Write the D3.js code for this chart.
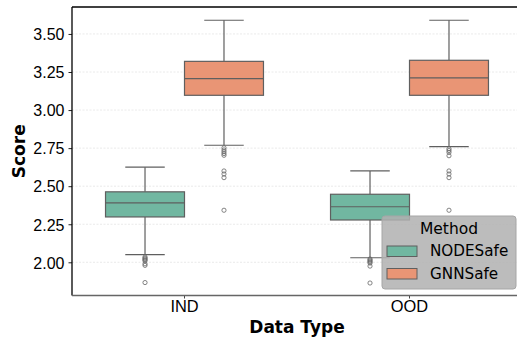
<!DOCTYPE html>
<html>
<head>
<meta charset="utf-8">
<script src="https://cdn.jsdelivr.net/npm/d3@7"></script>
<style>
  body { margin: 0; background: #fff; }
  svg { display: block; font-family: "DejaVu Sans", sans-serif; }
</style>
</head>
<body>
<div id="chart"></div>
<script>
// categories and hue groups
var categories = ["IND", "OOD"];
var methods = ["NODESafe", "GNNSafe"];
var colors = { NODESafe: "#71b7a1", GNNSafe: "#e99575" };

// box stats, [IND, OOD]
var whiskerLow = { NODESafe: [2.051, 2.030], GNNSafe: [2.769, 2.760] };
var q1 = { NODESafe: [2.298, 2.278], GNNSafe: [3.097, 3.097] };
var median = { NODESafe: [2.390, 2.365], GNNSafe: [3.206, 3.211] };
var q3 = { NODESafe: [2.463, 2.447], GNNSafe: [3.320, 3.327] };
var whiskerHigh = { NODESafe: [2.625, 2.600], GNNSafe: [3.590, 3.590] };
var outliers = {
  NODESafe: [
    [2.035, 2.028, 2.022, 2.016, 2.010, 1.990, 1.980, 1.867],
    [2.022, 2.015, 2.008, 2.002, 1.995, 1.975, 1.864]
  ],
  GNNSafe: [
    [2.752, 2.738, 2.726, 2.714, 2.703, 2.600, 2.580, 2.556, 2.342],
    [2.745, 2.734, 2.722, 2.700, 2.600, 2.580, 2.556, 2.342]
  ]
};
var yTicks = [2.00, 2.25, 2.50, 2.75, 3.00, 3.25, 3.50];

var width = 517, height = 341;
var dim = { left: 72, top: 7, right: 522, bottom: 295.5 };
var lineColor = "#5f5f5f";

var svg = d3.select("#chart").append("svg")
  .attr("width", width)
  .attr("height", height);

var y = d3.scaleLinear().domain([1.782, 3.677]).range([dim.bottom, dim.top]);
var x = d3.scaleBand().domain(categories).range([dim.left, dim.right]).padding(0);
var inner = d3.scaleBand().domain(methods)
  .range([x.bandwidth() * 0.149, x.bandwidth() * 0.851]).padding(0);

// grid
svg.append("g").selectAll("line")
  .data(yTicks)
  .enter().append("line")
  .attr("x1", dim.left)
  .attr("x2", dim.right)
  .attr("y1", function(d) { return y(d); })
  .attr("y2", function(d) { return y(d); })
  .attr("stroke", "#e4e4e4")
  .attr("stroke-width", 0.8)
  .attr("stroke-dasharray", "2,1.5");

// boxes
var rows = [];
categories.forEach(function(c, ci) {
  methods.forEach(function(m) {
    rows.push({
      cat: c, method: m,
      lo: whiskerLow[m][ci], q1: q1[m][ci], med: median[m][ci],
      q3: q3[m][ci], hi: whiskerHigh[m][ci], out: outliers[m][ci]
    });
  });
});

var groups = svg.append("g").selectAll("g")
  .data(rows)
  .enter().append("g")
  .attr("transform", function(d) { return "translate(" + (x(d.cat) + inner(d.method)) + ",0)"; });

var bw = inner.bandwidth();

groups.append("line")
  .attr("x1", bw / 2).attr("x2", bw / 2)
  .attr("y1", function(d) { return y(d.hi); })
  .attr("y2", function(d) { return y(d.q3); })
  .attr("stroke", lineColor).attr("stroke-width", 1.2);
groups.append("line")
  .attr("x1", bw / 2).attr("x2", bw / 2)
  .attr("y1", function(d) { return y(d.q1); })
  .attr("y2", function(d) { return y(d.lo); })
  .attr("stroke", lineColor).attr("stroke-width", 1.2);
groups.append("line")
  .attr("x1", bw / 4).attr("x2", bw * 3 / 4)
  .attr("y1", function(d) { return y(d.hi); })
  .attr("y2", function(d) { return y(d.hi); })
  .attr("stroke", lineColor).attr("stroke-width", 1.2);
groups.append("line")
  .attr("x1", bw / 4).attr("x2", bw * 3 / 4)
  .attr("y1", function(d) { return y(d.lo); })
  .attr("y2", function(d) { return y(d.lo); })
  .attr("stroke", lineColor).attr("stroke-width", 1.2);

groups.append("rect")
  .attr("x", 0)
  .attr("width", bw)
  .attr("y", function(d) { return y(d.q3); })
  .attr("height", function(d) { return y(d.q1) - y(d.q3); })
  .attr("fill", function(d) { return colors[d.method]; })
  .attr("stroke", lineColor)
  .attr("stroke-width", 1.2);

groups.append("line")
  .attr("x1", 0).attr("x2", bw)
  .attr("y1", function(d) { return y(d.med); })
  .attr("y2", function(d) { return y(d.med); })
  .attr("stroke", lineColor).attr("stroke-width", 1.2);

groups.each(function(d) {
  d3.select(this).selectAll("circle")
    .data(d.out)
    .enter().append("circle")
    .attr("cx", bw / 2)
    .attr("cy", function(v) { return y(v); })
    .attr("r", 2.1)
    .attr("fill", "none")
    .attr("stroke", "#666")
    .attr("stroke-width", 0.8);
});

// axes
var yAxis = svg.append("g")
  .attr("transform", "translate(" + dim.left + ",0)")
  .call(d3.axisLeft(y).tickValues(yTicks).tickFormat(d3.format(".2f")).tickSize(3.5).tickPadding(4));
yAxis.select(".domain").remove();
yAxis.selectAll("line").attr("stroke", "#222");
yAxis.selectAll("text")
  .style("font-size", "16px")
  .style("fill", "#000")
  .attr("dy", "0.36em");

var xAxis = svg.append("g")
  .attr("transform", "translate(0," + dim.bottom + ")")
  .call(d3.axisBottom(x).tickSize(3).tickPadding(2));
xAxis.select(".domain").remove();
xAxis.selectAll("line").attr("stroke", "#444");
xAxis.selectAll("text")
  .style("font-size", "16.4px")
  .style("fill", "#000")
  .attr("dy", "0.72em");

// spines
svg.append("line")
  .attr("x1", dim.left).attr("x2", dim.right)
  .attr("y1", dim.top).attr("y2", dim.top)
  .attr("stroke", "#000").attr("stroke-width", 1.3);
svg.append("line")
  .attr("x1", dim.left).attr("x2", dim.left)
  .attr("y1", dim.top).attr("y2", dim.bottom)
  .attr("stroke", "#000").attr("stroke-width", 1.3);
svg.append("line")
  .attr("x1", dim.left).attr("x2", dim.right)
  .attr("y1", dim.bottom).attr("y2", dim.bottom)
  .attr("stroke", "#666").attr("stroke-width", 1.6);

// axis titles
svg.append("text")
  .attr("x", (dim.left + dim.right) / 2)
  .attr("y", 333)
  .attr("text-anchor", "middle")
  .style("font-size", "17px")
  .style("font-weight", "bold")
  .text("Data Type");

svg.append("text")
  .attr("transform", "translate(25," + ((dim.top + dim.bottom) / 2) + ") rotate(-90)")
  .attr("text-anchor", "middle")
  .style("font-size", "17px")
  .style("font-weight", "bold")
  .text("Score");

// legend
var legend = svg.append("g").attr("transform", "translate(382,216)");
legend.append("rect")
  .attr("width", 134).attr("height", 73)
  .attr("rx", 3)
  .attr("fill", "#b0b0b0")
  .attr("fill-opacity", 0.85)
  .attr("stroke", "#a6a6a6");
legend.append("text")
  .attr("x", 67).attr("y", 18)
  .attr("text-anchor", "middle")
  .style("font-size", "15.5px")
  .text("Method");
methods.forEach(function(m, i) {
  legend.append("rect")
    .attr("x", 5).attr("y", 30 + i * 22.5)
    .attr("width", 30).attr("height", 10.5)
    .attr("fill", colors[m])
    .attr("stroke", lineColor)
    .attr("stroke-width", 1);
  legend.append("text")
    .attr("x", 48).attr("y", 40 + i * 22.5)
    .style("font-size", "15.2px")
    .text(m);
});
</script>
</body>
</html>
